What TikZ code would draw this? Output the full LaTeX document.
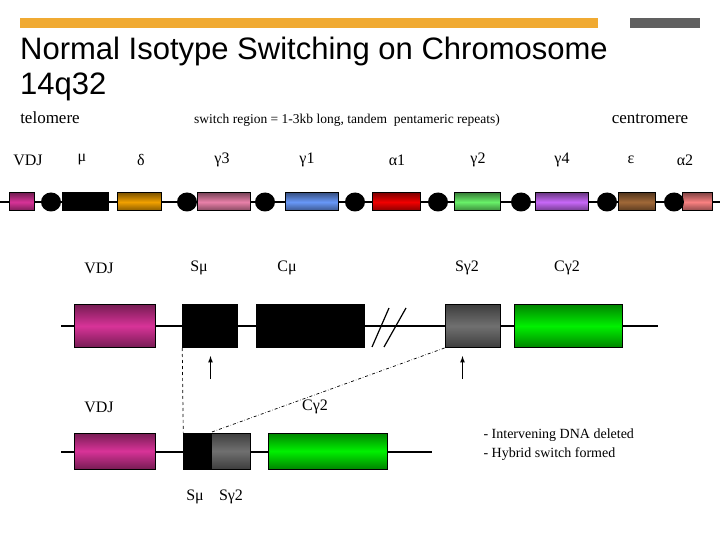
\documentclass[tikz,border=0pt]{standalone}
\usepackage{fontspec}
\setmainfont{Liberation Serif}
\newfontfamily\ttl{Liberation Sans}
\begin{document}
\begin{tikzpicture}[x=1pt,y=-1pt,
  box/.style={draw=black,line width=1pt,inner sep=0pt,minimum height=18pt},
  bbox/.style={draw=black,line width=1pt,inner sep=0pt,minimum height=43pt},
  sh/.style={top color=#1!55!black,bottom color=#1!55!black,middle color=#1},
  dot/.style={ellipse,fill=black,inner sep=0pt,minimum width=20pt,minimum height=19pt},
  lab/.style={font=\fontsize{16}{16}\selectfont},
  ln/.style={line width=1.3pt}]
\usetikzlibrary{shapes.geometric}
\useasboundingbox (0,0) rectangle (720,540);
\definecolor{vdjc}{HTML}{D83398}
\definecolor{orc}{HTML}{F0A000}
\definecolor{pkc}{HTML}{E880A8}
\definecolor{blc}{HTML}{6898F8}
\definecolor{rdc}{HTML}{F00000}
\definecolor{grc}{HTML}{68F068}
\definecolor{puc}{HTML}{C868F8}
\definecolor{brc}{HTML}{A06838}
\definecolor{slc}{HTML}{F88080}
\definecolor{ggc}{HTML}{00F000}
\definecolor{gyc}{HTML}{707070}
% header
\fill[color={rgb,255:red,240;green,170;blue,50}] (20,18) rectangle (598,28);
\fill[gray!75!black] (630,18) rectangle (700,28);
\node[anchor=base west,font=\ttl\fontsize{31}{31}\selectfont,inner sep=0] (t1) at (20,60) {Normal Isotype Switching on Chromosome};
\node[anchor=base west,font=\ttl\fontsize{31}{31}\selectfont,inner sep=0] (t2) at (20,95) {14q32};
\node[lab,font=\fontsize{17}{17}\selectfont] (tel) at (50,118) {telomere};
\node[font=\fontsize{13.5}{14}\selectfont] (sw) at (347,120) {switch region = 1-3kb long, tandem\ \ pentameric repeats)};
\node[lab,font=\fontsize{17}{17}\selectfont] (cen) at (650,119) {centromere};
% chromosome row
\coordinate (l0) at (0,202); \coordinate (l1) at (720,202);
\draw[ln] (l0) -- (l1);
\foreach \a/\b/\c/\n in {9/34/vdjc/b1,117/161/orc/b3,197/250/pkc/b4,285/338/blc/b5,372/420/rdc/b6,454/500/grc/b7,535/588/puc/b8,618/655/brc/b9,682/712/slc/b10}
  \node[box,sh=\c,minimum width={(\b-\a)*1pt}] (\n) at ({(\a+\b)/2},202) {};
\node[box,fill=black,minimum width=46pt] (b2) at (85,202) {};
\foreach \x/\n in {51/d1,187/d2,265/d3,355/d4,438/d5,521/d6,607/d7,674/d8}
  \node[dot] (\n) at (\x,202) {};
\foreach \x/\t/\n in {28/VDJ/g0,82/μ/g1,141/δ/g2,222/γ3/g3,307/γ1/g4,397/α1/g5,478/γ2/g6,562/γ4/g7,631/ε/g8,685/α2/g9}
  \node[lab] (\n) at (\x,160) {\t};
% middle row
\coordinate (m0) at (61,326); \coordinate (m1) at (658,326);
\draw[ln] (m0) -- (m1);
\node[bbox,sh=vdjc,minimum width=81pt] (mv) at (114.5,326) {};
\node[bbox,fill=black,minimum width=54.5pt] (ms) at (210,326) {};
\node[bbox,fill=black,minimum width=108.5pt] (mc) at (310.5,326) {};
\node[bbox,sh=gyc,minimum width=55pt] (mg) at (472.5,326) {};
\node[bbox,sh=ggc,minimum width=108pt] (mgc) at (568,326) {};
\coordinate (s1a) at (372,347); \coordinate (s1b) at (389,308);
\coordinate (s2a) at (384,347); \coordinate (s2b) at (406,308);
\draw[line width=1.2pt] (s1a) -- (s1b) (s2a) -- (s2b);
\coordinate (a1) at (210.5,379); \coordinate (a1t) at (210.5,356);
\coordinate (a2) at (462.5,379); \coordinate (a2t) at (462.5,356);
\draw[line width=1.2pt,-latex] (a1) -- (a1t);
\draw[line width=1.2pt,-latex] (a2) -- (a2t);
\foreach \x/\t/\n in {99/VDJ/h0,199/Sμ/h1,287/Cμ/h2,467/Sγ2/h3,567/Cγ2/h4}
  \node[lab] (\n) at (\x,268) {\t};
% bottom row
\coordinate (n0) at (61,452); \coordinate (n1) at (432,452);
\draw[ln] (n0) -- (n1);
\node[bbox,minimum height=36pt,sh=vdjc,minimum width=81pt] (nv) at (114.5,451) {};
\node[bbox,minimum height=36pt,fill=black,minimum width=27.5pt] (ns1) at (197.5,451) {};
\node[bbox,minimum height=36pt,sh=gyc,minimum width=39pt] (ns2) at (230.5,451) {};
\node[bbox,minimum height=36pt,sh=ggc,minimum width=119.5pt] (nc) at (328,451) {};
\draw[dashed,line width=0.7pt] (ms.south west) -- (ns1.north west);
\draw[dash dot,line width=0.7pt] (mg.south west) -- (ns2.north west);
\node[lab] (k0) at (99,407) {VDJ};
\node[lab] (k1) at (315,407) {Cγ2};
\node[lab] (k2) at (195,497) {Sμ};
\node[lab] (k3) at (231,497) {Sγ2};
\node[anchor=west,font=\fontsize{14}{14}\selectfont] (r1) at (480,435) {- Intervening DNA deleted};
\node[anchor=west,font=\fontsize{14}{14}\selectfont] (r2) at (480,454) {- Hybrid switch formed};
\end{tikzpicture}
\end{document}
